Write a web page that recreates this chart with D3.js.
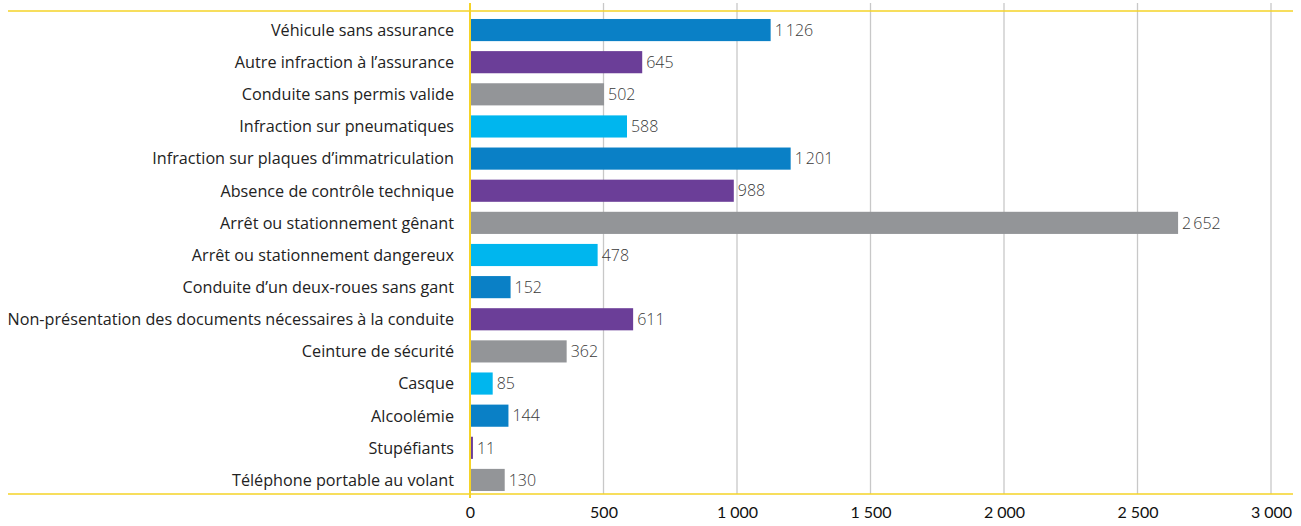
<!DOCTYPE html>
<html>
<head>
<meta charset="utf-8">
<script src="https://cdn.jsdelivr.net/npm/d3@7"></script>
<style>
  body { margin: 0; background: #fff; }
  svg { display: block; font-family: "Open Sans", sans-serif; }
</style>
</head>
<body>
<div id="chart"></div>
<script>
// data
var categories = [
  "Véhicule sans assurance",
  "Autre infraction à l’assurance",
  "Conduite sans permis valide",
  "Infraction sur pneumatiques",
  "Infraction sur plaques d’immatriculation",
  "Absence de contrôle technique",
  "Arrêt ou stationnement gênant",
  "Arrêt ou stationnement dangereux",
  "Conduite d’un deux-roues sans gant",
  "Non-présentation des documents nécessaires à la conduite",
  "Ceinture de sécurité",
  "Casque",
  "Alcoolémie",
  "Stupéfiants",
  "Téléphone portable au volant"
];
var values = [1126, 645, 502, 588, 1201, 988, 2652, 478, 152, 611, 362, 85, 144, 11, 130];
var xTicks = [0, 500, 1000, 1500, 2000, 2500, 3000];
var palette = ["#0a80c6", "#6b3e98", "#939598", "#00b6ee"];

var svgWidth = 1301;
var svgHeight = 526;
var margin = {top: 11, right: 30, bottom: 32, left: 470};
var chartWidth = 1271 - margin.left;
var chartHeight = svgHeight - margin.top - margin.bottom;

var fmt = function(v) {
  return d3.format(",")(v).replace(/,/g, "\u202F");
};

var svg = d3.select("#chart")
  .append("svg")
  .attr("width", svgWidth)
  .attr("height", svgHeight)
  .append("g")
  .attr("transform", `translate(${margin.left},${margin.top})`);

var x = d3.scaleLinear().domain([0, 3000]).range([0, chartWidth]);
var y = d3.scaleBand().domain(categories).range([3, chartHeight + 2]).paddingInner(0.311).paddingOuter(0.155);

// vertical grid lines
svg.selectAll("line.grid")
  .data(xTicks.slice(1))
  .enter()
  .append("line")
  .attr("class", "grid")
  .attr("x1", d => x(d))
  .attr("x2", d => x(d))
  .attr("y1", -8)
  .attr("y2", chartHeight)
  .attr("stroke", "#c8c8c8")
  .attr("stroke-width", 1.3);

// yellow frame lines
svg.append("line")
  .attr("x1", 8 - margin.left).attr("x2", 1293 - margin.left)
  .attr("y1", 0).attr("y2", 0)
  .attr("stroke", "#f5d327").attr("stroke-width", 1.5);
svg.append("line")
  .attr("x1", 8 - margin.left).attr("x2", 1293 - margin.left)
  .attr("y1", chartHeight).attr("y2", chartHeight)
  .attr("stroke", "#f5d327").attr("stroke-width", 1.5);

// bars
svg.selectAll("rect.bar")
  .data(values)
  .enter()
  .append("rect")
  .attr("class", "bar")
  .attr("x", x(0))
  .attr("y", (d, i) => y(categories[i]))
  .attr("width", d => x(d) - x(0))
  .attr("height", y.bandwidth())
  .attr("fill", (d, i) => palette[i % 4]);

// y axis yellow line
svg.append("line")
  .attr("x1", x(0)).attr("x2", x(0))
  .attr("y1", -8).attr("y2", chartHeight + 4)
  .attr("stroke", "#f5d327").attr("stroke-width", 2);

// value labels
svg.selectAll("text.value")
  .data(values)
  .enter()
  .append("text")
  .attr("class", "value")
  .attr("x", d => x(d) + 4)
  .attr("y", (d, i) => y(categories[i]) + y.bandwidth() / 2)
  .attr("dy", "0.36em")
  .attr("font-size", 16)
  .attr("font-weight", 300)
  .attr("fill", "#3a3a3a")
  .text(d => fmt(d));

// category labels
svg.selectAll("text.cat")
  .data(categories)
  .enter()
  .append("text")
  .attr("class", "cat")
  .attr("x", -16)
  .attr("y", d => y(d) + y.bandwidth() / 2)
  .attr("dy", "0.36em")
  .attr("text-anchor", "end")
  .attr("font-size", 16.2)
  .attr("fill", "#222")
  .text(d => d);

// x axis
var bottomAxis = d3.axisBottom(x).tickValues(xTicks).tickSize(0).tickPadding(13).tickFormat(fmt);
var gx = svg.append("g")
  .attr("transform", `translate(0, ${chartHeight})`)
  .call(bottomAxis);
gx.select(".domain").remove();
gx.selectAll("text").attr("font-size", 16).attr("fill", "#111").attr("font-family", "Lato, sans-serif");
</script>
</body>
</html>
